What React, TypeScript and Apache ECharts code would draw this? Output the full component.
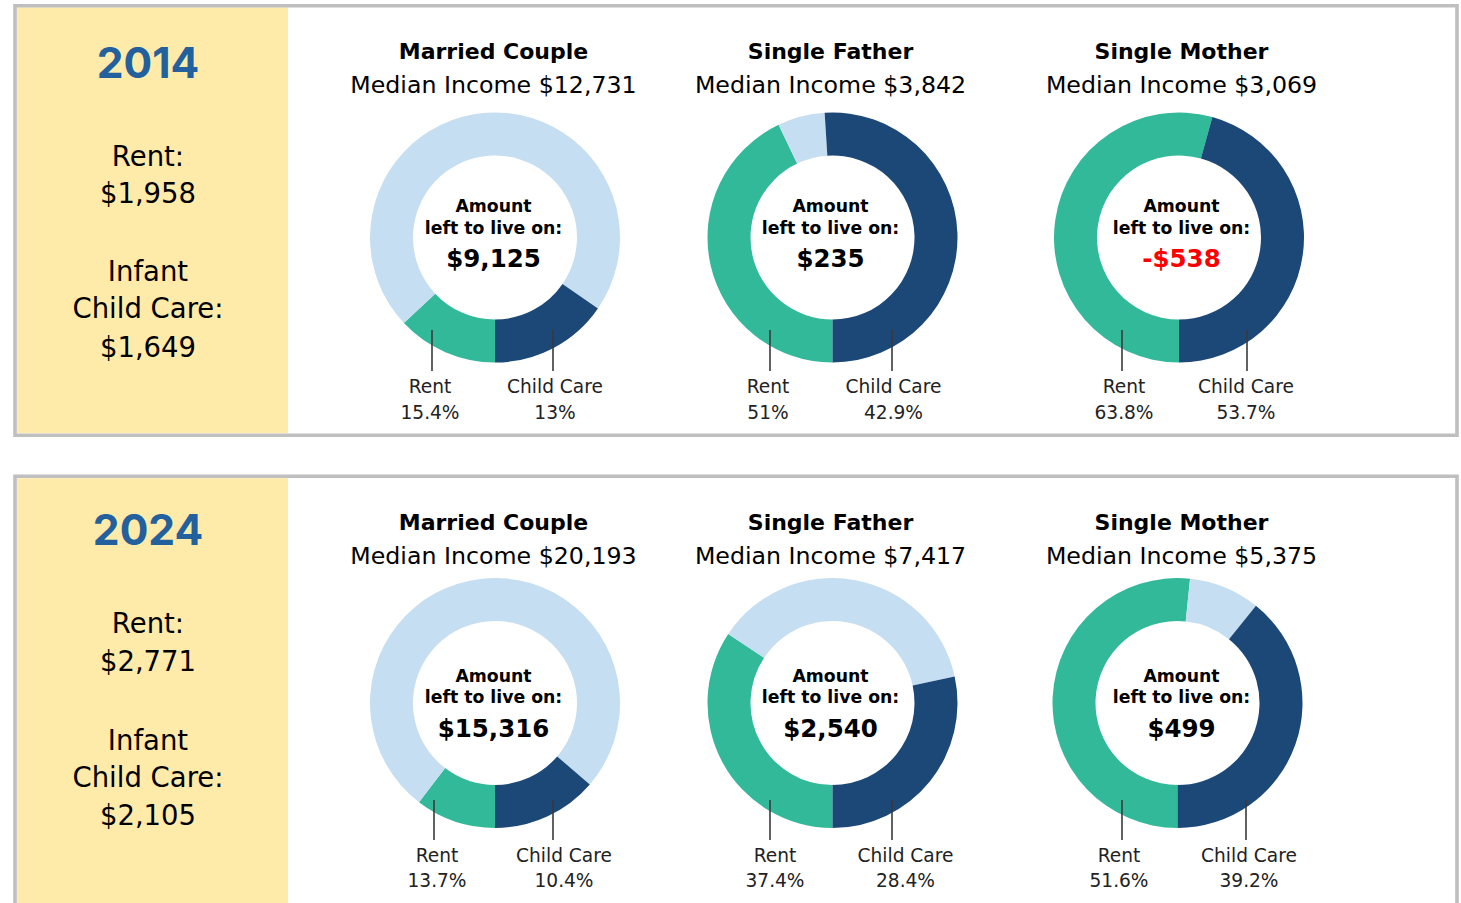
import React, { useEffect, useRef } from 'react';
import * as echarts from 'echarts';

// ---------- data ----------
const YEARS = ['2014', '2024'];
const RENT_COST = ['$1,958', '$2,771'];
const INFANT_CARE_COST = ['$1,649', '$2,105'];
const HOUSEHOLDS = ['Married Couple', 'Single Father', 'Single Mother'];
const MEDIAN_INCOME_2014 = ['$12,731', '$3,842', '$3,069'];
const MEDIAN_INCOME_2024 = ['$20,193', '$7,417', '$5,375'];
const LEFT_TO_LIVE_2014 = ['$9,125', '$235', '-$538'];
const LEFT_TO_LIVE_2024 = ['$15,316', '$2,540', '$499'];
const RENT_SHARE_2014 = ['15.4%', '51%', '63.8%'];
const RENT_SHARE_2024 = ['13.7%', '37.4%', '51.6%'];
const CARE_SHARE_2014 = ['13%', '42.9%', '53.7%'];
const CARE_SHARE_2024 = ['10.4%', '28.4%', '39.2%'];
// ring slices as drawn (percent of each ring)
const RING_TEAL_2014 = [13.0, 42.9, 54.3];
const RING_LIGHT_2014 = [71.6, 6.1, 0];
const RING_NAVY_2014 = [15.4, 51.0, 45.7];
const RING_TEAL_2024 = [10.4, 34.3, 51.6];
const RING_LIGHT_2024 = [75.9, 37.3, 9.2];
const RING_NAVY_2024 = [13.7, 28.4, 39.2];

// ---------- styles / layout ----------
const FONT = "'DejaVu Sans'";
const YEAR_FONT = 'Inter';
const NAVY = '#1C4878';
const TEAL = '#32B99A';
const LIGHT = '#C6DEF1';
const YELLOW = '#FFEBA9';
const BORDER = '#BFBFBF';
const YEAR_BLUE = '#22609E';

const PANELS = [
  {
    income: MEDIAN_INCOME_2014, left: LEFT_TO_LIVE_2014, rent: RENT_SHARE_2014, care: CARE_SHARE_2014,
    teal: RING_TEAL_2014, light: RING_LIGHT_2014, navy: RING_NAVY_2014,
    borderY: 5.7, borderH: 429.6, yellowY: 7.3, yellowH: 426,
    yearY: 62, rentY: [155.5, 192.5], careY: [271, 308, 346.7],
    titleY: 51, incomeY: 85, ringY: 237.5, ringX: [495, 832.5, 1179],
    amountY: 205.5, leftY: 227.5, valueY: 258.3,
    lineY: [330, 371], lineX: [[432, 553], [770, 892], [1122, 1247]],
    labelX: [[430, 555], [768, 893.5], [1124, 1246]], labelY: [386, 412],
  },
  {
    income: MEDIAN_INCOME_2024, left: LEFT_TO_LIVE_2024, rent: RENT_SHARE_2024, care: CARE_SHARE_2024,
    teal: RING_TEAL_2024, light: RING_LIGHT_2024, navy: RING_NAVY_2024,
    borderY: 476.3, borderH: 500, yellowY: 478.3, yellowH: 430,
    yearY: 529, rentY: [623.3, 661.3], careY: [739.7, 777, 815],
    titleY: 522, incomeY: 556, ringY: 703, ringX: [495, 832.5, 1177.5],
    amountY: 675.5, leftY: 697, valueY: 728,
    lineY: [800, 840], lineX: [[434, 553], [770, 892], [1122, 1246]],
    labelX: [[437, 564], [775, 905.5], [1119, 1249]], labelY: [855, 880],
  },
];
const TEXT_X = [493.5, 830.5, 1181.5];
const SIDE_X = 148;

function txt(text: string, x: number, y: number, size: number, weight: string, fill = '#000', family = FONT) {
  return {
    type: 'text',
    x,
    y,
    z: 10,
    silent: true,
    style: {
      text,
      fill,
      font: `${weight} ${size}px ${family}`,
      textAlign: 'center',
      textVerticalAlign: 'middle',
      align: 'center',
      verticalAlign: 'middle',
    },
  };
}

export default function App() {
  const ref = useRef<HTMLDivElement>(null);

  useEffect(() => {
    if (!ref.current) return;
    const chart = echarts.init(ref.current, null, { renderer: 'svg' });

    const graphics: any[] = [];
    const series: any[] = [];

    PANELS.forEach((p, pi) => {
      graphics.push({
        type: 'rect', z: 0, silent: true,
        shape: { x: 17, y: p.yellowY, width: 271, height: p.yellowH },
        style: { fill: YELLOW },
      });
      graphics.push({
        type: 'rect', z: 1, silent: true,
        shape: { x: 15, y: p.borderY, width: 1442, height: p.borderH },
        style: { fill: 'none', stroke: BORDER, lineWidth: 3.6 },
      });
      graphics.push(txt(YEARS[pi], SIDE_X, p.yearY, 42.5, 'bold', YEAR_BLUE, YEAR_FONT));
      graphics.push(txt('Rent:', SIDE_X, p.rentY[0], 27.5, 'normal'));
      graphics.push(txt(RENT_COST[pi], SIDE_X, p.rentY[1], 27.5, 'normal'));
      graphics.push(txt('Infant', SIDE_X, p.careY[0], 27.5, 'normal'));
      graphics.push(txt('Child Care:', SIDE_X, p.careY[1], 27.5, 'normal'));
      graphics.push(txt(INFANT_CARE_COST[pi], SIDE_X, p.careY[2], 27.5, 'normal'));

      HOUSEHOLDS.forEach((h, hi) => {
        const tx = TEXT_X[hi];
        graphics.push(txt(h, tx, p.titleY, 22, 'bold'));
        graphics.push(txt('Median Income ' + p.income[hi], tx, p.incomeY, 23.7, 'normal'));
        graphics.push(txt('Amount', tx, p.amountY, 17.3, 'bold'));
        graphics.push(txt('left to live on:', tx, p.leftY, 17.3, 'bold'));
        const val = p.left[hi];
        graphics.push(txt(val, tx, p.valueY, 24.5, 'bold', val.startsWith('-') ? '#FF0000' : '#000'));

        p.lineX[hi].forEach((lx) => {
          graphics.push({
            type: 'line', z: 5, silent: true,
            shape: { x1: lx, y1: p.lineY[0], x2: lx, y2: p.lineY[1] },
            style: { stroke: '#3A3A3A', lineWidth: 1.6 },
          });
        });
        graphics.push(txt('Rent', p.labelX[hi][0], p.labelY[0], 18.6, 'normal', '#222'));
        graphics.push(txt(p.rent[hi], p.labelX[hi][0], p.labelY[1], 18.6, 'normal', '#222'));
        graphics.push(txt('Child Care', p.labelX[hi][1], p.labelY[0], 18.6, 'normal', '#222'));
        graphics.push(txt(p.care[hi], p.labelX[hi][1], p.labelY[1], 18.6, 'normal', '#222'));

        const slices = [
          { name: 'teal', value: p.teal[hi], itemStyle: { color: TEAL } },
          { name: 'light', value: p.light[hi], itemStyle: { color: LIGHT } },
          { name: 'navy', value: p.navy[hi], itemStyle: { color: NAVY } },
        ].filter((d) => d.value > 0);

        series.push({
          type: 'pie',
          name: `${YEARS[pi]} ${h}`,
          center: [p.ringX[hi], p.ringY],
          radius: [82, 125],
          startAngle: -90,
          clockwise: true,
          silent: true,
          avoidLabelOverlap: false,
          label: { show: false },
          labelLine: { show: false },
          emphasis: { disabled: true },
          itemStyle: { borderWidth: 0 },
          z: 3,
          data: slices,
        });
      });
    });

    chart.setOption({
      animation: false,
      backgroundColor: '#ffffff',
      series,
      graphic: { elements: graphics },
    });

    return () => chart.dispose();
  }, []);

  return (
    <div
      ref={ref}
      style={{ position: 'fixed', left: 0, top: 0, width: 1461, height: 903, background: '#fff' }}
    />
  );
}
